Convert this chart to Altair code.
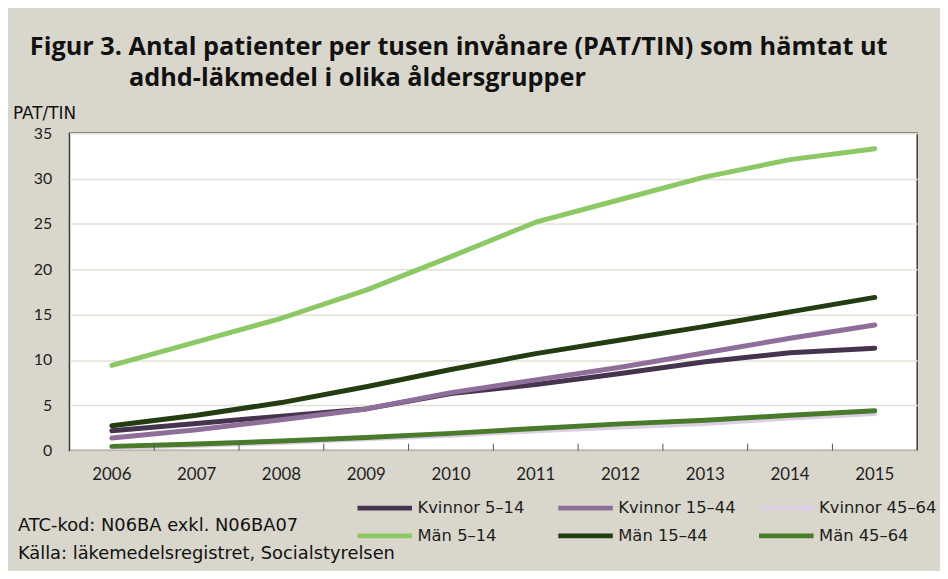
import altair as alt
import pandas as pd

years = [2006, 2007, 2008, 2009, 2010, 2011, 2012, 2013, 2014, 2015]
series_k = ["Kvinnor 5–14", "Kvinnor 15–44", "Kvinnor 45–64"]
series_m = ["Män 5–14", "Män 15–44", "Män 45–64"]
k_5_14 = [2.2, 3.0, 3.8, 4.6, 6.3, 7.3, 8.5, 9.8, 10.8, 11.3]
k_15_44 = [1.4, 2.3, 3.4, 4.6, 6.4, 7.8, 9.2, 10.8, 12.4, 13.85]
k_45_64 = [0.35, 0.6, 0.9, 1.3, 1.7, 2.2, 2.6, 3.0, 3.6, 4.1]
m_5_14 = [9.4, 12.0, 14.6, 17.7, 21.4, 25.2, 27.7, 30.2, 32.1, 33.3]
m_15_44 = [2.75, 3.9, 5.3, 7.05, 8.95, 10.7, 12.2, 13.7, 15.3, 16.9]
m_45_64 = [0.47, 0.72, 1.05, 1.45, 1.9, 2.45, 2.95, 3.35, 3.9, 4.4]
colors_k = ["#46344f", "#8f6e9a", "#dccfe3"]
colors_m = ["#8cc864", "#233c12", "#4a7a2b"]
y_ticks = [0, 5, 10, 15, 20, 25, 30, 35]

title_lines = ["Figur 3. Antal patienter per tusen invånare (PAT/TIN) som hämtat ut",
               "adhd-läkmedel i olika åldersgrupper"]
y_title = "PAT/TIN"
notes = ["ATC-kod: N06BA exkl. N06BA07", "Källa: läkemedelsregistret, Socialstyrelsen"]


def make_df(names, arrays):
    rows = []
    for s_i, (name, vals) in enumerate(zip(names, arrays)):
        for y, v in zip(years, vals):
            rows.append({"year": y, "value": v, "series": name, "order": s_i})
    return pd.DataFrame(rows)


df_k = make_df(series_k, [k_5_14, k_15_44, k_45_64])
df_m = make_df(series_m, [m_5_14, m_15_44, m_45_64])

FONT = "Lato"
TFONT = "Open Sans"
RFONT = "DejaVu Sans"
x_scale = alt.Scale(type="band", paddingInner=0, paddingOuter=0)
y_scale = alt.Scale(domain=[0, 35], nice=False)
x_axis = alt.Axis(title=None, labelAngle=0, ticks=False, domain=False,
                  labelFontSize=17, labelPadding=16, labelColor="#1e1e1e", labelFont=FONT)
y_axis = alt.Axis(title=None, values=y_ticks, ticks=False, domain=False,
                  labelFontSize=16, labelPadding=18, labelColor="#1e1e1e", labelFont=FONT,
                  gridColor="#e3e0d5", gridWidth=1.5)


def legend(y, col_pad):
    return alt.Legend(title=None, orient="none", legendX=288, legendY=y,
                      direction="horizontal", columns=3, gridAlign="all",
                      columnPadding=col_pad,
                      symbolType="stroke", symbolSize=3025, symbolStrokeWidth=5,
                      labelFontSize=16.5, labelFont=RFONT, labelColor="#1e1e1e",
                      labelOffset=3)


def lines(df, names, cols, leg):
    return alt.Chart(df).mark_line(strokeWidth=5, strokeCap="round", strokeJoin="round").encode(
        x=alt.X("year:O", scale=x_scale, axis=x_axis),
        y=alt.Y("value:Q", scale=y_scale, axis=y_axis),
        color=alt.Color("series:N", scale=alt.Scale(domain=names, range=cols),
                        sort=names, legend=leg),
        order=alt.Order("order:Q"),
    )


lines_k = lines(df_k, series_k, colors_k, legend(348, 12.5))
lines_m = lines(df_m, series_m, colors_m, legend(376, 40.5))

tick_df = pd.DataFrame({"year": years[1:]})
ticks = alt.Chart(tick_df).mark_rule(color="#555555", strokeWidth=1).encode(
    x=alt.X("year:O", scale=x_scale, bandPosition=0, axis=x_axis),
    y=alt.value(313),
    y2=alt.value(320),
)


def text_layer(txt, x, y, size, font, bold=False):
    return alt.Chart(pd.DataFrame({"t": [txt]})).mark_text(
        align="left", baseline="middle", fontSize=size, font=font,
        fontWeight="bold" if bold else "normal", color="#111111"
    ).encode(text="t:N", x=alt.value(x), y=alt.value(y))


t1 = text_layer(title_lines[0], -40, -87, 25.5, TFONT, True)
t2 = text_layer(title_lines[1], 60, -56, 25.5, TFONT, True)
ty = text_layer(y_title, -57, -19, 17, RFONT)
n1 = text_layer(notes[0], -52, 396, 18, RFONT)
n2 = text_layer(notes[1], -52, 424, 18, RFONT)

chart = alt.layer(lines_k, lines_m, ticks, t1, t2, ty, n1, n2).resolve_scale(
    color="independent"
).properties(
    width=855, height=320,
    autosize=alt.AutoSizeParams(type="none"),
    padding={"left": 62, "top": 124, "right": 23, "bottom": 119},
    background="#d9d7cc",
).configure_view(stroke="#3a3a3a", strokeWidth=1.5, fill="white")

chart.save("out.html", embed_options={"renderer": "svg", "actions": False})
